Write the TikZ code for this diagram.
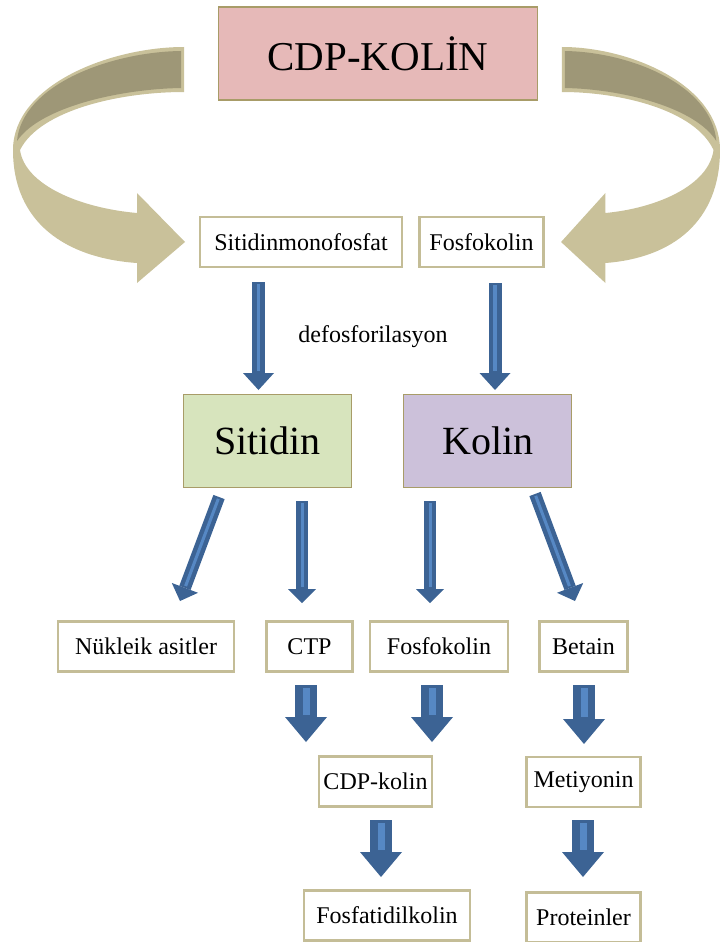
\documentclass[tikz,border=0pt]{standalone}
\usepackage{fontspec}
\setmainfont{Liberation Serif}
\usetikzlibrary{arrows.meta,positioning}

\definecolor{cdppink}{RGB}{230,185,184}
\definecolor{sitidingreen}{RGB}{215,228,189}
\definecolor{kolinlilac}{RGB}{204,193,218}
\definecolor{boxedge}{RGB}{196,189,151}
\definecolor{bigedge}{RGB}{168,156,104}
\definecolor{ribbon}{RGB}{201,193,154}
\definecolor{ribbondark}{RGB}{158,151,119}
\definecolor{arrowblue}{RGB}{60,99,148}
\definecolor{arrowlight}{RGB}{86,136,196}

% curled ribbon arrow, drawn for the left side
\tikzset{
  pics/ribbonarrow/.style={code={
    \fill[ribbon] (184,47) .. controls (110,47) and (13,85) .. (13,150)
      .. controls (13,222) and (65,258) .. (137,263)
      -- (137,283) -- (185,242) -- (137,193) -- (137,213)
      .. controls (80,208) and (25,185) .. (20,150)
      .. controls (40,110) and (120,92) .. (184,92) -- cycle;
    \fill[ribbondark] (181,51) .. controls (110,52) and (22,85) .. (17,141)
      .. controls (40,107) and (120,89) .. (181,88) -- cycle;
  }}
}

\begin{document}
\begin{tikzpicture}[x=1pt,y=-1pt,
  box/.style={draw=boxedge, line width=2.5pt, fill=white, minimum height=50pt,
    inner sep=2pt, font=\fontsize{24}{28}\selectfont},
  bigbox/.style={draw=bigedge, line width=1.2pt, minimum height=93pt,
    inner sep=2pt, font=\fontsize{40}{46}\selectfont},
  thinarrow/.style={draw=arrowblue, line width=13pt,
    -{Triangle[length=17pt,width=31pt,line width=0pt]},
    postaction={draw=arrowlight, line width=3.5pt, -, shorten >=19pt, shorten <=2pt}},
  midarrow/.style={draw=arrowblue, line width=12pt,
    -{Triangle[length=14pt,width=28pt,line width=0pt]},
    postaction={draw=arrowlight, line width=3pt, -, shorten >=16pt, shorten <=2pt}},
  fatarrow/.style={draw=arrowblue, line width=22pt,
    -{Triangle[length=25pt,width=42pt,line width=0pt]},
    postaction={draw=arrowlight, line width=7pt, -, shorten >=27pt, shorten <=3pt}}]

  \useasboundingbox (0,0) rectangle (723,942);

  % curled arrows round the top
  \pic at (0,0) {ribbonarrow};
  \pic[xscale=-0.924] at (732,0) {ribbonarrow};

  % boxes
  \node[bigbox, fill=cdppink, minimum width=319pt, font=\fontsize{41}{48}\selectfont] (cdp) at (378,53.5) {CDP-KOLİN};

  \node[box, minimum width=202pt, minimum height=50pt] (smp) at (301,242) {Sitidinmonofosfat};
  \node[box, minimum width=124pt, minimum height=50pt] (fk) [right=15pt of smp] {Fosfokolin};

  \node (defo) at (373,337) {\fontsize{24}{28}\selectfont defosforilasyon};

  \node[bigbox, fill=sitidingreen, minimum width=168pt] (sitidin) at (267.5,441) {Sitidin};
  \node[bigbox, fill=kolinlilac, minimum width=168pt] (kolin) [right=51pt of sitidin] {Kolin};

  \node[box, minimum width=176pt] (nuk) at (146,646.5) {Nükleik asitler};
  \node[box, minimum width=86pt] (ctp) [right=30pt of nuk] {CTP};
  \node[box, minimum width=138pt] (fk2) [right=15pt of ctp] {Fosfokolin};
  \node[box, minimum width=88pt] (betain) [right=29pt of fk2] {Betain};

  \node[box, minimum width=113pt] (cdpk) at (375.5,781.5) {CDP-kolin};
  \node[box, minimum width=114pt] (metiy) [below=83pt of betain] {Metiyonin};

  \node[box, minimum width=166pt] (fosf) at (387,915.5) {Fosfatidilkolin};
  \node[box, minimum width=114pt] (prot) [below=83pt of metiy] {Proteinler};

  % arrow ends
  \coordinate (t1) at (258.5,282); \coordinate (t2) at (258.5,390);
  \coordinate (t3) at (495,283);   \coordinate (t4) at (495,390);
  \coordinate (m1) at (219,497);   \coordinate (m2) at (180,601);
  \coordinate (m3) at (302,501);   \coordinate (m4) at (302,603);
  \coordinate (m5) at (430,501);   \coordinate (m6) at (430,603);
  \coordinate (m7) at (535,494);   \coordinate (m8) at (575,601);
  \coordinate (f1) at (306,685);   \coordinate (f2) at (306,742);
  \coordinate (f3) at (432,685);   \coordinate (f4) at (432,742);
  \coordinate (f5) at (584,685);   \coordinate (f6) at (584,744);
  \coordinate (f7) at (381,820);   \coordinate (f8) at (381,877);
  \coordinate (f9) at (583,820);   \coordinate (f10) at (583,877);

  \foreach \a/\b in {t1/t2, t3/t4}
    \draw[thinarrow] (\a) -- (\b);
  \foreach \a/\b in {m1/m2, m3/m4, m5/m6, m7/m8}
    \draw[midarrow] (\a) -- (\b);
  \foreach \a/\b in {f1/f2, f3/f4, f5/f6, f7/f8, f9/f10}
    \draw[fatarrow] (\a) -- (\b);
\end{tikzpicture}
\end{document}
